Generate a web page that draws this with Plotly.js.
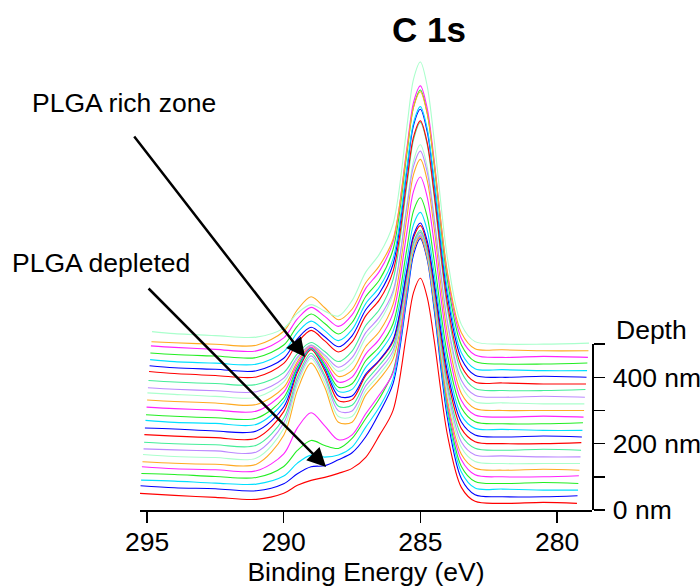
<!DOCTYPE html>
<html>
<head>
<meta charset="utf-8">
<script src="https://cdn.plot.ly/plotly-3.0.1.min.js"></script>
<style>
  html, body { margin: 0; padding: 0; background: #fff; }
  #chart { width: 700px; height: 587px; }
</style>
</head>
<body>
<div id="chart"></div>
<script>
// Binding-energy grid (eV) shared by the interior points of every spectrum
const energyGrid = [294.0, 292.5, 291.0, 290.0, 289.5, 289.0, 288.5, 288.0, 287.5, 287.0,
  286.5, 286.0, 285.5, 285.25, 285.0, 284.75, 284.5, 284.0, 283.5, 283.0, 282.0, 280.5];

// First and last energy of each acquired spectrum (eV)
const energyStart = [295.26, 295.24, 295.22, 295.21, 295.19, 295.17, 295.15, 295.13, 295.11, 295.10,
  295.08, 295.06, 295.04, 295.02, 295.00, 294.99, 294.97, 294.95, 294.93, 294.91,
  294.89, 294.88, 294.86, 294.84, 294.82];
const energyEnd = [279.27, 279.25, 279.23, 279.22, 279.20, 279.18, 279.16, 279.14, 279.12, 279.11,
  279.09, 279.07, 279.05, 279.03, 279.01, 279.00, 278.98, 278.96, 278.94, 278.92,
  278.90, 278.89, 278.87, 278.85, 278.83];

// Sputter depth of each spectrum (nm)
const depths = [20, 40, 60, 80, 100, 120, 140, 160, 180, 200, 220, 240, 260, 280, 300,
  320, 340, 360, 380, 400, 420, 440, 460, 480, 500];

// C 1s intensity (a.u.): [start, ...energyGrid, end]
const c1s_020nm = [10, 8, 6, 4, 10, 18, 23, 26, 30, 35, 46, 68, 93, 171, 211, 225, 206, 164, 67, 16, 2, 0, 1, 0];
const c1s_040nm = [11, 9, 8, 6, 13, 23, 30, 31, 37, 44, 60, 84, 113, 197, 242, 258, 237, 188, 77, 18, 2, 0, 0, 1];
const c1s_060nm = [10, 9, 7, 6, 14, 27, 35, 33, 35, 43, 63, 83, 111, 194, 239, 254, 233, 185, 76, 18, 2, 1, 0, 0];
const c1s_080nm = [10, 9, 7, 6, 17, 33, 43, 38, 35, 45, 65, 85, 112, 192, 236, 251, 230, 183, 75, 17, 2, 0, 1, 0];
const c1s_100nm = [10, 8, 7, 6, 23, 49, 64, 51, 37, 42, 63, 82, 104, 186, 228, 242, 222, 176, 72, 17, 2, 0, 0, 1];
const c1s_120nm = [8.5, 7, 6, 6, 35, 80, 107, 83, 48, 48, 75, 91, 111, 183, 220, 233, 213, 169, 69, 16, 2, 0, 1, 0];
const c1s_140nm = [9, 7, 6, 5.5, 35, 79, 105, 81, 47, 47, 73, 89, 109, 180, 217, 230, 210, 167, 68, 16, 2, 0, 0, 0];
const c1s_160nm = [8, 7, 6, 5, 34, 76, 101, 79, 46, 46, 71, 87, 106, 176, 213, 225, 205, 163, 67, 15, 2, 1, 0, 0];
const c1s_180nm = [8, 6.5, 5.5, 5, 32, 73, 97, 75, 44, 45, 69, 85, 104, 172, 208, 220, 201, 160, 65, 15, 2, 0, 1, 0];
const c1s_200nm = [9, 7.5, 6, 5.5, 32, 71, 94, 73, 43, 44, 68, 83, 102, 170, 206, 218, 199, 158, 65, 15, 2, 0, 0, 1];
const c1s_220nm = [9, 8, 6, 6, 30, 67, 89, 69, 41, 41, 63, 77, 97, 166, 202, 214, 196, 156, 64, 15, 2, 0, 1, 0];
const c1s_240nm = [10, 8, 7, 6, 28.5, 62, 82, 64, 39, 41, 63, 78, 99, 169, 206, 218, 200, 158, 65, 15, 2, 1, 0, 0];
const c1s_260nm = [9, 7.5, 6, 5.5, 26, 57, 76, 59, 36.5, 40, 63, 77, 100, 174, 213, 226, 207, 164, 67, 16, 2, 0, 0, 1];
const c1s_280nm = [10, 8.5, 7, 6, 25, 53, 70, 55, 35, 40, 63, 78, 104, 184, 226, 240, 220, 175, 72, 16.5, 2, 0, 1, 0];
const c1s_300nm = [10.5, 9, 7.5, 6, 23, 49, 65, 51, 34, 40, 64, 79, 106, 192, 236, 251, 230, 183, 75, 17, 2, 0, 0, 0];
const c1s_320nm = [11, 9.5, 7.5, 6.5, 22, 45, 59, 47, 32.5, 41, 66, 82, 110, 198, 243, 259, 237, 189, 77.5, 18, 2, 1, 0, 0];
const c1s_340nm = [9.5, 8, 6.5, 5.5, 19, 40, 52, 42, 30, 39.5, 64.5, 80, 106, 189, 231, 246, 225, 179, 74, 17, 2, 0, 1, 0];
const c1s_360nm = [10, 8.5, 7, 6, 18, 37, 48, 39, 29, 39.5, 65, 81, 111, 204, 251, 268, 246, 195, 80, 18.5, 2, 0, 0, 1];
const c1s_380nm = [12.5, 10.5, 8.5, 7, 20.5, 41, 53.5, 43, 32, 42, 68, 84, 112.5, 202, 247, 263, 241, 191.5, 79, 18, 2, 1, 0, 0];
const c1s_400nm = [11.5, 9.5, 8, 6.5, 19, 38.5, 50, 40.5, 30.5, 41.5, 67.5, 84, 113, 205, 252, 268, 245.5, 195, 80, 18.5, 2, 0, 1, 0];
const c1s_420nm = [11, 9, 7.5, 6.5, 19, 38, 49.5, 40, 30, 41, 67, 83.5, 112, 202, 248, 264, 242, 192, 79, 18, 2, 1, 0, 0];
const c1s_440nm = [11, 9.5, 8, 6.5, 19, 38, 50, 40.5, 30, 41.5, 67.5, 84, 114.5, 209, 257, 274, 251, 200, 82, 19, 2.5, 0, 0, 1];
const c1s_460nm = [11.5, 10, 8, 6.5, 19.5, 38.5, 50, 41, 31, 42.5, 69, 86, 115.5, 208, 255, 271.5, 249, 198, 81, 19, 2.5, 0, 1, 0];
const c1s_480nm = [9, 8, 6.5, 5.5, 19.5, 41, 54, 43, 31, 41.5, 68, 85, 111.5, 199, 243.5, 259, 237, 189, 77, 18, 2, 1, 0, 0];
const c1s_500nm = [12.5, 10.5, 8.5, 7, 16, 31, 39.5, 33, 28, 43.5, 72, 90, 120, 216, 265, 282, 258, 205.5, 84, 19.5, 2.5, 0, 0, 1];

const spectra = [c1s_020nm, c1s_040nm, c1s_060nm, c1s_080nm, c1s_100nm, c1s_120nm, c1s_140nm,
  c1s_160nm, c1s_180nm, c1s_200nm, c1s_220nm, c1s_240nm, c1s_260nm, c1s_280nm, c1s_300nm,
  c1s_320nm, c1s_340nm, c1s_360nm, c1s_380nm, c1s_400nm, c1s_420nm, c1s_440nm, c1s_460nm,
  c1s_480nm, c1s_500nm];

// Depth-axis ticks
const depthTicks = [0, 100, 200, 300, 400, 500];
const depthTickText = ['0 nm', '', '200 nm', '', '400 nm', ''];
const energyTicks = [295, 290, 285, 280];

// Stacking: intensity units -> depth-axis units, and axis extents
const STACK_SCALE = 3.015;
const Y_TOP = 1477;
const DEPTH_MAX = 500;

const palette = ['#ff0000', '#0000ff', '#00e0ff', '#22ee22', '#ff22ff', '#ffaa22',
  '#aaffcc', '#bb88ff', '#44ee99'];

const FONT = 'Liberation Sans, Arial, Helvetica, sans-serif';
const TXT = 26.5;

const traces = spectra.map((vals, i) => ({
  type: 'scatter',
  mode: 'lines',
  x: [energyStart[i], ...energyGrid, energyEnd[i]],
  y: vals.map(v => depths[i] + v * STACK_SCALE),
  line: { color: palette[i % palette.length], width: 1.1, shape: 'spline', smoothing: 0.9 },
  hoverinfo: 'skip',
  showlegend: false
}));

// empty trace so the depth axis gets its own subplot
traces.push({ type: 'scatter', mode: 'lines', x: [], y: [], yaxis: 'y2', showlegend: false, hoverinfo: 'skip' });

const plotLeft = 140, plotRight = 592, plotTop = 20, plotBottom = 510;
const pw = plotRight - plotLeft, ph = plotBottom - plotTop;
const px2paperX = px => (px - plotLeft) / pw;
const px2paperY = py => (plotBottom - py) / ph;

const layout = {
  width: 700,
  height: 587,
  margin: { l: plotLeft, r: 700 - plotRight, t: plotTop, b: 587 - plotBottom, pad: 0 },
  paper_bgcolor: '#ffffff',
  plot_bgcolor: 'rgba(0,0,0,0)',
  font: { family: FONT, size: TXT, color: '#000' },
  showlegend: false,
  title: {
    text: '<b>C 1s</b>',
    font: { family: FONT, size: 35, color: '#000' },
    xref: 'container', x: 429 / 700, xanchor: 'center',
    yref: 'container', y: 1 - 30 / 587, yanchor: 'middle'
  },
  xaxis: {
    range: [295.26, 278.72],
    showline: true, linecolor: '#000', linewidth: 1.5,
    ticks: 'outside', ticklen: 11, tickwidth: 1.5, tickcolor: '#000',
    tickvals: energyTicks,
    ticklabelstandoff: -3,
    tickfont: { family: FONT, size: TXT, color: '#000' },
    showgrid: false, zeroline: false, automargin: false,
    title: { text: 'Binding Energy (eV)', font: { family: FONT, size: TXT, color: '#000' }, standoff: 2 }
  },
  yaxis: { range: [0, Y_TOP], visible: false, showgrid: false, zeroline: false, fixedrange: true },
  yaxis2: {
    domain: [0, DEPTH_MAX / Y_TOP],
    range: [0, DEPTH_MAX],
    anchor: 'x', side: 'right',
    showline: true, linecolor: '#000', linewidth: 1.5,
    ticks: 'outside', ticklen: 11, tickwidth: 1.5, tickcolor: '#000',
    tickvals: depthTicks, ticktext: depthTickText,
    ticklabelstandoff: 3,
    tickfont: { family: FONT, size: TXT, color: '#000' },
    showgrid: false, zeroline: false, automargin: false
  },
  annotations: [
    { text: 'Depth', xref: 'paper', yref: 'paper', x: px2paperX(614), y: px2paperY(330),
      xanchor: 'left', yanchor: 'middle', showarrow: false, font: { family: FONT, size: TXT, color: '#000' } },
    { text: 'PLGA rich zone', xref: 'paper', yref: 'paper', x: px2paperX(123.5), y: px2paperY(103),
      xanchor: 'center', yanchor: 'middle', showarrow: false, font: { family: FONT, size: TXT, color: '#000' } },
    { text: 'PLGA depleted', xref: 'paper', yref: 'paper', x: px2paperX(100.5), y: px2paperY(263),
      xanchor: 'center', yanchor: 'middle', showarrow: false, font: { family: FONT, size: TXT, color: '#000' } },
    { text: '', xref: 'x', yref: 'y', x: 289.22, y: 461, axref: 'pixel', ayref: 'pixel', ax: -172, ay: -222,
      showarrow: true, arrowhead: 2, arrowsize: 1.5, arrowwidth: 2.5, arrowcolor: '#000', standoff: 0 },
    { text: '', xref: 'x', yref: 'y', x: 288.45, y: 129.6, axref: 'pixel', ayref: 'pixel', ax: -179, ay: -180,
      showarrow: true, arrowhead: 2, arrowsize: 1.5, arrowwidth: 2.5, arrowcolor: '#000', standoff: 0 }
  ]
};

Plotly.newPlot('chart', traces, layout, { staticPlot: true, displayModeBar: false });
</script>
</body>
</html>
